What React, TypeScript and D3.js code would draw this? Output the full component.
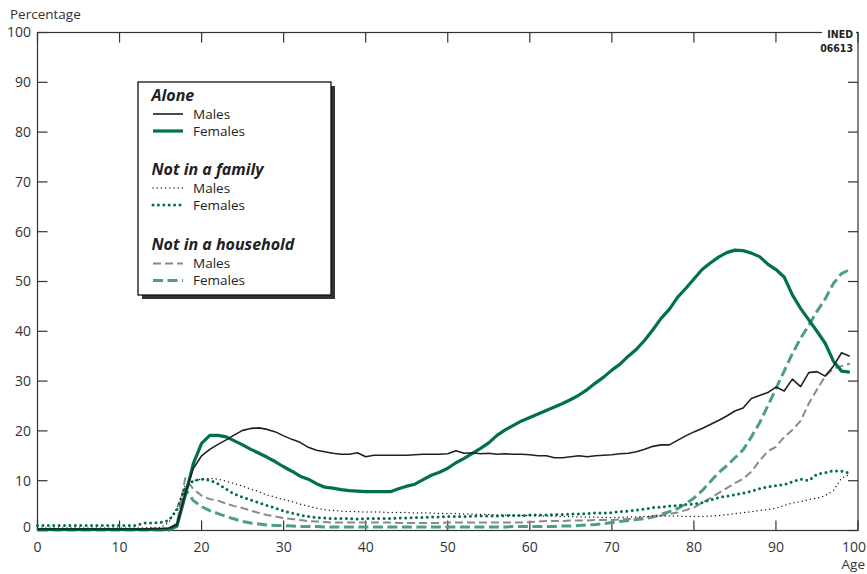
import React from "react";
import * as d3 from "d3";

const AGES = d3.range(0, 100);

const aloneMales = [
  0.3, 0.3, 0.3, 0.3, 0.3, 0.3, 0.3, 0.3, 0.3, 0.3,
  0.3, 0.3, 0.3, 0.3, 0.4, 0.4, 0.5, 1.2, 7.5, 12.5,
  15.0, 16.3, 17.3, 18.2, 19.2, 20.1, 20.5, 20.6, 20.3, 19.8,
  19.0, 18.3, 17.7, 16.7, 16.1, 15.8, 15.5, 15.3, 15.3, 15.6,
  14.8, 15.1, 15.1, 15.1, 15.1, 15.1, 15.2, 15.3, 15.3, 15.3,
  15.4, 16.0, 15.5, 15.6, 15.4, 15.5, 15.3, 15.4, 15.3, 15.3,
  15.2, 15.0, 15.0, 14.6, 14.6, 14.8, 15.0, 14.8, 15.0, 15.1,
  15.2, 15.4, 15.5, 15.8, 16.3, 16.9, 17.2, 17.2, 18.1, 19.0,
  19.8, 20.5, 21.3, 22.1, 23.0, 24.0, 24.6, 26.5, 27.1, 27.7,
  28.8, 28.0, 30.4, 28.9, 31.7, 31.9, 31.0, 33.0, 35.7, 35.0,
];

const aloneFemales = [
  0.2, 0.2, 0.2, 0.2, 0.2, 0.2, 0.2, 0.2, 0.2, 0.2,
  0.2, 0.2, 0.2, 0.2, 0.2, 0.2, 0.3, 1.0, 7.0, 13.5,
  17.5, 19.1, 19.1, 18.8, 18.0, 17.2, 16.3, 15.5, 14.7, 13.8,
  12.8, 11.9, 10.9, 10.3, 9.4, 8.7, 8.5, 8.2, 8.0, 7.9,
  7.8, 7.8, 7.8, 7.8, 8.4, 8.9, 9.3, 10.2, 11.1, 11.7,
  12.5, 13.6, 14.5, 15.5, 16.5, 17.6, 19.1, 20.2, 21.1, 22.0,
  22.7, 23.4, 24.1, 24.8, 25.5, 26.3, 27.2, 28.3, 29.6, 30.8,
  32.2, 33.4, 35.0, 36.4, 38.2, 40.3, 42.6, 44.4, 46.8, 48.6,
  50.5, 52.4, 53.7, 54.9, 55.8, 56.3, 56.2, 55.7, 55.0, 53.5,
  52.4, 50.9, 47.3, 44.6, 42.3, 40.0, 37.6, 34.0, 32.0, 31.8,
];

const familyMales = [
  0.5, 0.5, 0.5, 0.5, 0.5, 0.5, 0.5, 0.5, 0.5, 0.5,
  0.5, 0.5, 0.5, 0.5, 0.6, 0.6, 1.6, 4.6, 9.0, 10.0,
  10.3, 10.5, 10.3, 9.9, 9.4, 8.9, 8.3, 7.8, 7.1, 6.7,
  6.2, 5.8, 5.3, 4.9, 4.5, 4.2, 4.0, 3.9, 3.8, 3.8,
  3.7, 3.7, 3.7, 3.6, 3.6, 3.6, 3.5, 3.5, 3.5, 3.4,
  3.4, 3.4, 3.3, 3.3, 3.2, 3.2, 3.1, 3.1, 3.0, 3.0,
  3.0, 2.9, 2.9, 2.9, 2.8, 2.8, 2.7, 2.7, 2.7, 2.6,
  2.6, 2.6, 2.7, 2.7, 2.8, 2.9, 2.9, 2.9, 2.9, 2.8,
  2.8, 2.8, 2.9, 3.0, 3.2, 3.4, 3.6, 3.8, 4.0, 4.2,
  4.5, 5.0, 5.5, 5.8, 6.2, 6.5, 7.0, 8.0, 10.5, 11.3,
];

const familyFemales = [
  1.0, 1.0, 1.0, 1.0, 1.0, 1.0, 1.0, 1.0, 1.0, 1.0,
  1.0, 1.0, 1.0, 1.5, 1.5, 1.6, 2.0, 4.2, 8.6, 10.0,
  10.3, 10.1, 9.4, 8.3, 7.3, 6.7, 6.1, 5.6, 5.0, 4.5,
  3.9, 3.5, 3.1, 2.8, 2.6, 2.5, 2.4, 2.4, 2.4, 2.3,
  2.4, 2.4, 2.4, 2.4, 2.5, 2.5, 2.6, 2.6, 2.7, 2.7,
  2.8, 2.8, 2.8, 2.9, 2.9, 2.9, 2.9, 3.0, 3.0, 3.0,
  3.1, 3.1, 3.1, 3.2, 3.2, 3.3, 3.3, 3.4, 3.5, 3.5,
  3.6, 3.8, 3.9, 4.1, 4.3, 4.6, 4.7, 4.9, 5.0, 5.2,
  5.3, 5.6, 6.1, 6.6, 6.9, 7.2, 7.5, 7.9, 8.4, 8.8,
  9.0, 9.2, 9.8, 10.3, 10.0, 11.3, 11.6, 12.0, 11.9, 11.5,
];

const householdMales = [
  0.3, 0.3, 0.3, 0.3, 0.3, 0.3, 0.3, 0.3, 0.3, 0.3,
  0.3, 0.3, 0.3, 0.3, 0.3, 0.3, 0.3, 1.5, 10.5, 8.3,
  7.0, 6.3, 6.0, 5.4, 4.9, 4.5, 4.0, 3.5, 3.1, 2.8,
  2.5, 2.3, 2.1, 1.9, 1.8, 1.7, 1.6, 1.6, 1.6, 1.6,
  1.6, 1.6, 1.6, 1.6, 1.5, 1.5, 1.5, 1.5, 1.5, 1.5,
  1.6, 1.6, 1.6, 1.6, 1.6, 1.6, 1.6, 1.6, 1.6, 1.6,
  1.7, 1.8, 1.9, 1.9, 1.9, 2.0, 2.0, 2.0, 2.1, 2.1,
  2.1, 2.2, 2.3, 2.4, 2.6, 2.8, 3.0, 3.3, 3.6, 4.1,
  4.6, 5.6, 6.5, 7.5, 8.5, 9.5, 10.4, 11.8, 14.0, 15.9,
  16.8, 18.8, 20.2, 22.0, 25.5, 28.3, 31.0, 32.5, 33.0, 33.5,
];

const householdFemales = [
  0.1, 0.1, 0.1, 0.1, 0.1, 0.1, 0.1, 0.1, 0.1, 0.1,
  0.1, 0.1, 0.1, 0.1, 0.1, 0.1, 0.1, 0.8, 8.3, 6.0,
  4.8, 4.0, 3.4, 2.8, 2.3, 1.8, 1.5, 1.3, 1.1, 1.0,
  1.0, 0.9, 0.8, 0.8, 0.8, 0.7, 0.7, 0.7, 0.7, 0.7,
  0.7, 0.7, 0.7, 0.7, 0.7, 0.7, 0.7, 0.7, 0.7, 0.7,
  0.7, 0.7, 0.7, 0.7, 0.7, 0.7, 0.7, 0.7, 0.8, 0.8,
  0.8, 0.8, 0.8, 0.8, 0.9, 0.9, 1.0, 1.1, 1.2, 1.4,
  1.6, 1.8, 2.0, 2.2, 2.4, 2.7, 3.2, 3.8, 4.4, 5.3,
  6.5, 8.0, 9.8, 11.6, 13.0, 14.6, 16.2, 18.8, 21.6, 25.0,
  28.5, 32.0, 35.5, 38.6, 41.2, 44.0, 46.5, 49.6, 51.6, 52.4,
];

const X_TICKS = [0, 10, 20, 30, 40, 50, 60, 70, 80, 90, 100];
const Y_TICKS = [0, 10, 20, 30, 40, 50, 60, 70, 80, 90, 100];

const DARK_GREEN = "#00704f";
const LIGHT_GREEN = "#4c9e84";
const GRAY = "#8a8a8a";
const BLACK = "#231f20";

type Style = { color: string; width: number; dash?: string; cap?: "round" | "butt" };

const STYLES: Record<string, Style> = {
  hhF: { color: LIGHT_GREEN, width: 3, dash: "10 4.5" },
  hhM: { color: GRAY, width: 2, dash: "8 4" },
  famF: { color: DARK_GREEN, width: 3, dash: "0 5.4", cap: "round" },
  famM: { color: BLACK, width: 1.5, dash: "0 4.2", cap: "round" },
  aloneF: { color: DARK_GREEN, width: 3.2 },
  aloneM: { color: BLACK, width: 1.6 },
};

const SERIES: { key: string; values: number[] }[] = [
  { key: "hhF", values: householdFemales },
  { key: "hhM", values: householdMales },
  { key: "famF", values: familyFemales },
  { key: "famM", values: familyMales },
  { key: "aloneF", values: aloneFemales },
  { key: "aloneM", values: aloneMales },
];

const LEGEND = [
  { title: "Alone", items: [{ label: "Males", key: "aloneM" }, { label: "Females", key: "aloneF" }] },
  { title: "Not in a family", items: [{ label: "Males", key: "famM" }, { label: "Females", key: "famF" }] },
  { title: "Not in a household", items: [{ label: "Males", key: "hhM" }, { label: "Females", key: "hhF" }] },
];

const W = 867;
const H = 574;
const X0 = 37.5;
const X1 = 858;
const Y0 = 530.5;
const Y1 = 32.5;
const FONT = "'Open Sans', 'Noto Sans', sans-serif";
const TEXT = "#333";

export default function App() {
  const x = d3.scaleLinear().domain([0, 100]).range([X0, X1]);
  const y = d3.scaleLinear().domain([0, 100]).range([Y0, Y1]);
  const line = (vals: number[]) =>
    d3
      .line<number>()
      .x((_, i) => x(AGES[i]))
      .y((d) => y(d))(vals) || "";

  const tickLen = 10;

  return (
    <svg
      width={W}
      height={H}
      style={{ position: "absolute", left: 0, top: 0, background: "#fff" }}
      fontFamily={FONT}
    >
      {/* frame */}
      <rect x={X0} y={Y1} width={X1 - X0} height={Y0 - Y1} fill="none" stroke="#333" strokeWidth={1.2} />
      {/* y ticks left & right */}
      {Y_TICKS.map((t) => (
        <g key={"y" + t}>
          <line x1={X0} x2={X0 + tickLen} y1={y(t)} y2={y(t)} stroke="#333" strokeWidth={1.2} />
          <line x1={X1} x2={X1 - tickLen} y1={y(t)} y2={y(t)} stroke="#333" strokeWidth={1.2} />
          <text x={31} y={y(t) - (t === 0 ? 3 : 0)} dy="0.35em" textAnchor="end" fontSize={14} fill={TEXT}>
            {t}
          </text>
        </g>
      ))}
      {/* x ticks bottom & top */}
      {X_TICKS.map((t) => (
        <g key={"x" + t}>
          <line x1={x(t)} x2={x(t)} y1={Y0} y2={Y0 - tickLen} stroke="#333" strokeWidth={1.2} />
          <line x1={x(t)} x2={x(t)} y1={Y1} y2={Y1 + tickLen} stroke="#333" strokeWidth={1.2} />
          <text
            x={t === 100 ? 866 : x(t)}
            y={552}
            textAnchor={t === 100 ? "end" : "middle"}
            fontSize={14}
            fill={TEXT}
          >
            {t}
          </text>
        </g>
      ))}
      <text x={10} y={19} fontSize={13.5} fill={TEXT}>
        Percentage
      </text>
      <text x={865} y={569} textAnchor="end" fontSize={13.5} fill={TEXT}>
        Age
      </text>

      {/* INED label */}
      <rect x={822} y={27} width={34} height={28} fill="#fff" />
      <g
        fontFamily="'Liberation Sans Narrow', 'DejaVu Sans Condensed', sans-serif"
        fontWeight="bold"
        fontSize={10.5}
        fill="#222"
        textAnchor="end"
      >
        <text x={853} y={38}>INED</text>
        <text x={853} y={51.5}>06613</text>
      </g>

      {/* series */}
      {SERIES.map((s) => {
        const st = STYLES[s.key];
        return (
          <path
            key={s.key}
            d={line(s.values)}
            fill="none"
            stroke={st.color}
            strokeWidth={st.width}
            strokeDasharray={st.dash}
            strokeLinecap={st.cap || "butt"}
            strokeLinejoin="round"
          />
        );
      })}

      {/* legend */}
      <rect x={142} y={86} width={193} height={213} fill="#333" />
      <rect x={138} y={82} width={193} height={213} fill="#fff" stroke="#111" strokeWidth={1.3} />
      {LEGEND.map((g, gi) => {
        const top = [100.5, 174.5, 250][gi];
        return (
          <g key={g.title}>
            <text x={151.5} y={top} fontSize={16} fontWeight="bold" fontStyle="italic" fill="#222">
              {g.title}
            </text>
            {g.items.map((it, ii) => {
              const st = STYLES[it.key];
              const cy = top + 13.5 + ii * 17;
              return (
                <g key={it.label}>
                  <line
                    x1={153}
                    x2={183}
                    y1={cy}
                    y2={cy}
                    stroke={st.color}
                    strokeWidth={st.width}
                    strokeDasharray={st.dash}
                    strokeLinecap={st.cap || "butt"}
                  />
                  <text x={193} y={cy + 4.5} fontSize={13.5} fill="#222">
                    {it.label}
                  </text>
                </g>
              );
            })}
          </g>
        );
      })}
    </svg>
  );
}
